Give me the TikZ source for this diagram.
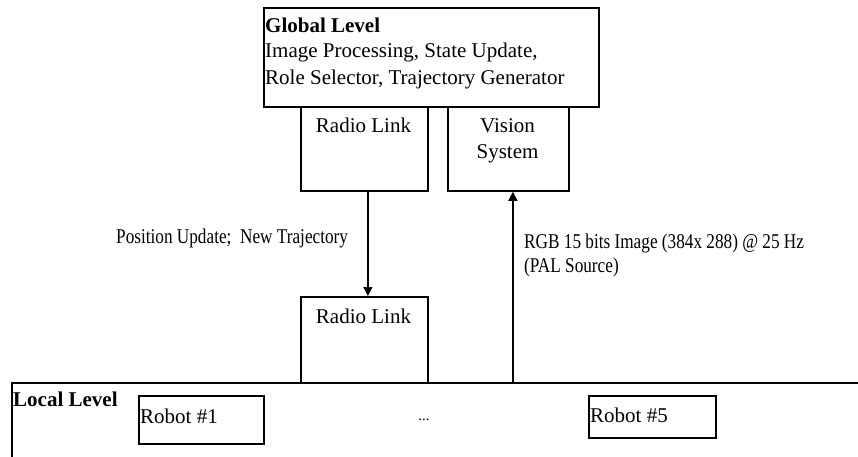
\documentclass[tikz,border=0pt]{standalone}
\usepackage{fontspec}
\setmainfont{Liberation Serif}
\newfontfamily\condfont[FakeStretch=0.82]{Liberation Serif}
\usetikzlibrary{arrows.meta}
\begin{document}
\begin{tikzpicture}[x=1pt,y=-1pt,
  box/.style={draw, line width=1.8pt, inner sep=0pt, anchor=north west},
  txt/.style={inner sep=0pt, font=\fontsize{21}{26}\selectfont},
  lbl/.style={inner sep=0pt, font=\condfont\fontsize{21}{26}\selectfont},
  arr/.style={line width=1.4pt, -{Triangle[length=9pt,width=9pt]}}]
\useasboundingbox (0,0) rectangle (858,457);
\clip (0,0) rectangle (858,457);
\fill[white] (0,0) rectangle (858,457);
% boxes
\node[box, minimum width=335, minimum height=99] (glob) at (263,7) {};
\node[box, minimum width=127, minimum height=84] (rl1) at (300,106) {};
\node[box, minimum width=121, minimum height=84] (vis) at (447,106) {};
\node[box, minimum width=127, minimum height=86] (rl2) at (300,296) {};
\node[box, minimum width=900, minimum height=120] (local) at (11,382) {};
\node[box, minimum width=125, minimum height=48] (r1) at (138,395) {};
\node[box, minimum width=127, minimum height=42] (r5) at (588,395) {};
% texts
\node[txt, anchor=base west] (g1) at (265,33) {\textbf{Global Level}};
\node[txt, anchor=base west] (g2) at (265,58) {Image Processing, State Update,};
\node[txt, anchor=base west] (g3) at (265,85) {Role Selector, Trajectory Generator};
\node[txt, anchor=base] (rl1t) at (363.5,133) {Radio Link};
\node[txt, anchor=base] (vist1) at (507.5,133) {Vision};
\node[txt, anchor=base] (vist2) at (507.5,159) {System};
\node[txt, anchor=base] (rl2t) at (363.5,323) {Radio Link};
\node[txt, anchor=base west] (loct) at (13,406) {\textbf{Local Level}};
\node[txt, anchor=base west] (r1t) at (140,423) {Robot \#1};
\node[txt, anchor=base west] (r5t) at (590,422) {Robot \#5};
\node[inner sep=0pt, font=\fontsize{15}{18}\selectfont, anchor=base] (dots) at (424,420) {...};
% connectors
\draw[arr] ([xshift=3.5pt]rl1.south) -- ([xshift=3.5pt]rl2.north);
\draw[arr] ([xshift=4.5pt]vis.south |- local.north) -- ([xshift=4.5pt]vis.south);
% labels
\node[lbl, anchor=base west] (pos) at (116,243) {Position Update;\ \ New Trajectory};
\node[lbl, anchor=base west] (rgb1) at (524,248) {RGB 15 bits Image (384x 288) @ 25 Hz};
\node[lbl, anchor=base west] (rgb2) at (524,272) {(PAL Source)};
\end{tikzpicture}
\end{document}
